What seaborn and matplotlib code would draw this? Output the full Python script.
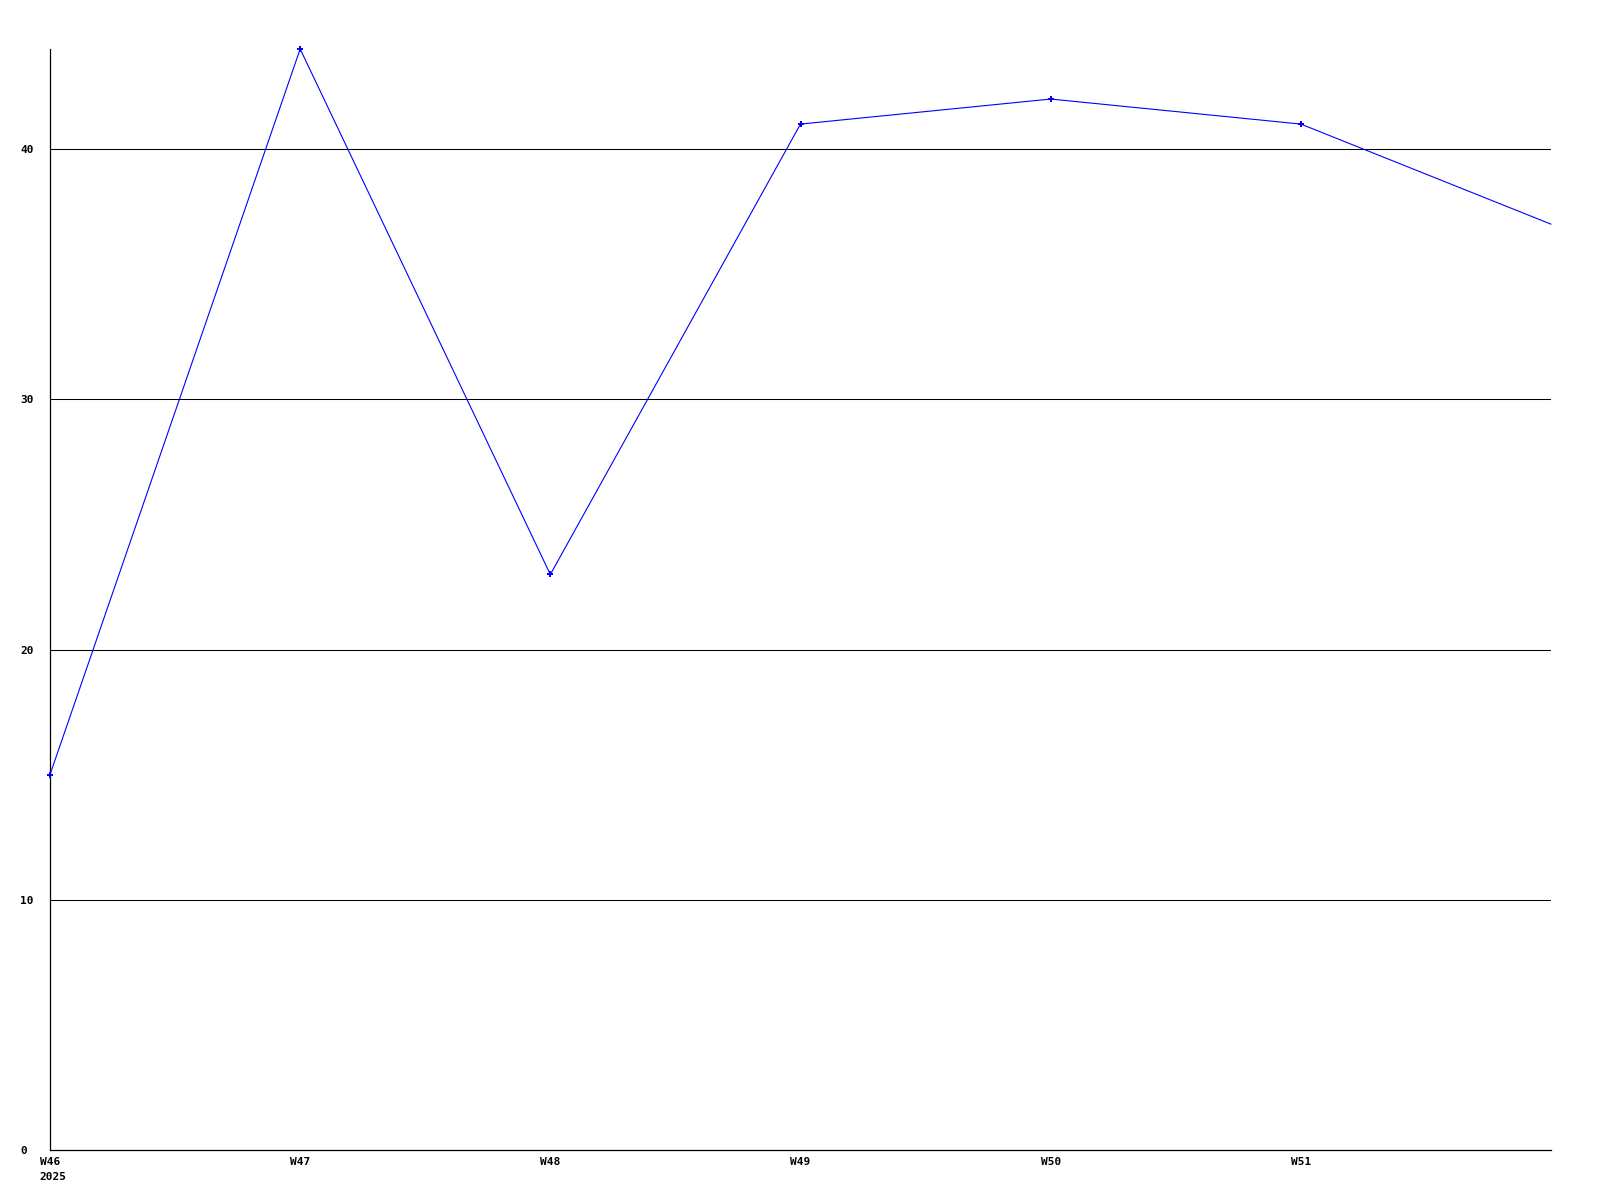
import matplotlib
matplotlib.use("Agg")
import matplotlib.pyplot as plt
import matplotlib.transforms as mtransforms
import seaborn as sns
import pandas as pd

weeks = ["W46", "W47", "W48", "W49", "W50", "W51", "W52"]
values = [15, 44, 23, 41, 42, 41, 37]
tick_labels = ["W46", "W47", "W48", "W49", "W50", "W51"]
year_label = "2025"
y_ticks = [0, 10, 20, 30, 40]

sns.set_style("white")
plt.rcParams['font.family'] = ['DejaVu Sans Mono', 'DejaVu Sans']

df = pd.DataFrame({"x": range(len(weeks)), "week": weeks, "value": values})

fig = plt.figure(figsize=(16, 12), dpi=100)
ax = fig.add_axes([50/1600, 1 - 1150/1200, (1551-50)/1600, (1150-49)/1200])

sns.lineplot(data=df, x="x", y="value", ax=ax, color="#0000ff", linewidth=0.8,
             marker="P", markersize=4, markeredgewidth=0, markerfacecolor="#0000ff",
             markevery=list(range(len(weeks) - 1)), clip_on=False, zorder=3)

ax.set_xlim(0, len(weeks) - 1)
ax.set_ylim(0, 44)
ax.set_xticks(range(len(tick_labels)))
ax.set_xticklabels(tick_labels)
ax.set_yticks(y_ticks)
ax.set_yticklabels([str(v) for v in y_ticks])
ax.set_xlabel("")
ax.set_ylabel("")

for v in y_ticks[1:]:
    ax.axhline(v, color="black", linewidth=0.75, zorder=0)

for s in ["top", "right"]:
    ax.spines[s].set_visible(False)
for s in ["left", "bottom"]:
    ax.spines[s].set_color("black")
    ax.spines[s].set_linewidth(0.9)

ax.tick_params(axis="both", length=0, labelsize=8, colors="black")
ax.tick_params(axis="x", pad=5)
ax.tick_params(axis="y", pad=21.5)
for lab in ax.get_yticklabels():
    lab.set_horizontalalignment("left")
    lab.set_fontweight("bold")
for lab in ax.get_xticklabels():
    lab.set_fontweight("bold")

trans = mtransforms.blended_transform_factory(ax.transData, ax.transAxes)
ax.annotate(year_label, xy=(0, 0), xycoords=trans, xytext=(-7.5, -15.5),
            textcoords="offset points", ha="left", va="top",
            fontsize=8, fontweight="bold", color="black")

fig.savefig("out.png", dpi=100, facecolor="white")
